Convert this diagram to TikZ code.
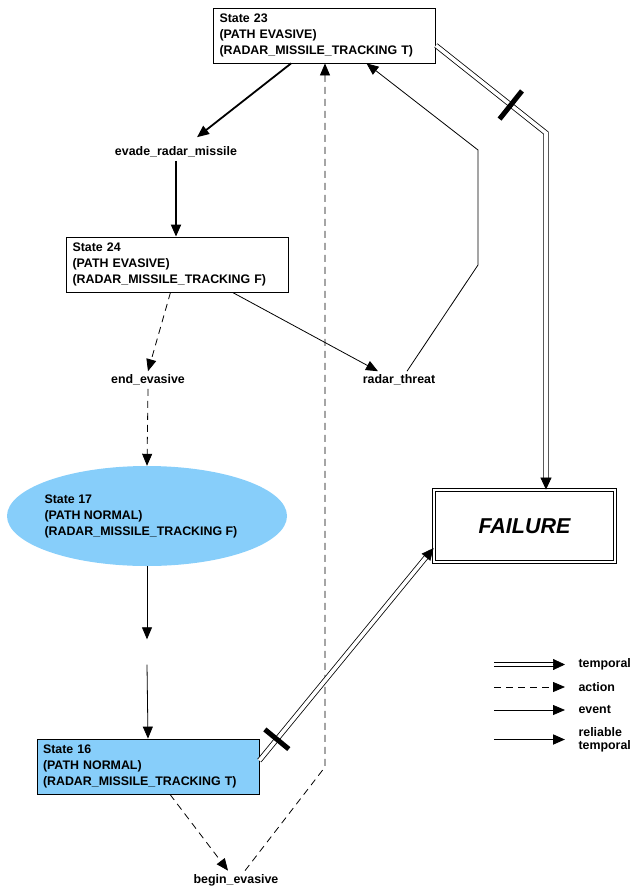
\documentclass[tikz,border=0pt]{standalone}
\usepackage{fontspec}
\setmainfont{Liberation Sans}
\usetikzlibrary{arrows.meta,calc,shapes.geometric}
\definecolor{stblue}{RGB}{135,206,250}
\newcommand{\stlines}[3]{State #1\\(PATH #2)\\(RADAR\_MISSILE\_TRACKING #3)}
\tikzset{
  every node/.style={font=\fontsize{12.4}{16}\selectfont\bfseries},
  tip/.style={-{Triangle[length=12pt,width=10pt]}},
  event/.style={tip, line width=0.8pt},
  action/.style={tip, line width=0.8pt, dash pattern=on 7pt off 5pt},
  rtemp/.style={tip, line width=1.8pt},
  temp/.style={line width=0.8pt, double, double distance=3.6pt, shorten >=8pt},
  ttip/.style={-{Triangle[length=12pt,width=11pt]}, line width=0.7pt},
  statebox/.style={draw, rectangle, align=left, text width=210pt, inner xsep=6pt, minimum height=55pt, line width=0.8pt},
  rbar/.style={fill=black, rectangle, minimum width=5pt, minimum height=36pt, inner sep=0pt, sloped, allow upside down},
}

\begin{document}
\begin{tikzpicture}[x=1pt, y=-1pt]
  \useasboundingbox (0,0) rectangle (633,891);

  %%%%% states %%%%%
  \node[statebox] (s23) at (324.5,35.5) {\stlines{23}{EVASIVE}{T}};
  \node[statebox] (s24) at (177.5,264.5) {\stlines{24}{EVASIVE}{F}};
  \node[ellipse, fill=stblue, minimum width=280pt, minimum height=100pt, inner sep=0pt] (s17) at (147,516)
    {\makebox[0pt]{\parbox{205pt}{\stlines{17}{NORMAL}{F}}}};
  \node[statebox, fill=stblue] (s16) at (148,766.5) {\stlines{16}{NORMAL}{T}};
  \node[draw, double, double distance=2.5pt, line width=0.8pt, minimum width=181pt, minimum height=72pt,
    font=\fontsize{21.5}{24}\selectfont\bfseries\itshape] (failure) at (524.5,526) {FAILURE};

  %%%%% events and actions %%%%%
  \node (evade) at (176,152) {evade\_radar\_missile};
  \node (endev) at (148,380) {end\_evasive};
  \node (radar) at (399,380) {radar\_threat};
  \node (beginev) at (236,880) {begin\_evasive};
  \node[minimum height=25pt] (evnone) at (147,652) {};

  \coordinate (rb1) at (478,265);
  \coordinate (rb2) at (478,150);
  \coordinate (bb) at (325,767);
  \coordinate (fb) at (546,133);
  \coordinate (ftop) at (fb |- failure.north);
  \coordinate (fleft) at ($(failure.west)+(0,22)$);
  \coordinate (s16e) at ($(s16.east)+(0,-6)$);

  %%%%% connectors %%%%%
  \draw[rtemp] ($(s23.south west)!.35!(s23.south east)$) -- ($(evade.north)+(21,-6)$);
  \draw[rtemp] (evade.south) -- (evade.south |- s24.north);
  \draw[action] ($(s24.south)+(-7,0)$) -- (endev.north);
  \draw[event] ($(s24.south)+(55,0)$) -- ($(radar.north)+(-21,0)$);
  \draw[event] ($(radar.north)+(8,0)$) -- (rb1) -- (rb2) -- ($(s23.south)+(42,0)$);
  \draw[action] (endev.south) -- (s17.north);
  \draw[event] (s17.south) -- (evnone.north);
  \draw[event] (evnone.south) -- (s16.north);
  \draw[action] ($(s16.south)+(22,0)$) -- ($(beginev.north)+(-8,0)$);
  \draw[action] ($(beginev.north)+(9,0)$) -- (bb) -- (bb |- s23.south);

  \draw[temp] ($(s23.east)+(0,10)$) -- node[rbar, pos=.68] {} (fb) -- (ftop);
  \draw[ttip] ($(ftop)+(0,-12)$) -- (ftop);
  \draw[temp] (s16e) -- node[rbar, pos=.1, minimum height=31pt] {} (fleft);
  \draw[ttip] ($(fleft)!12pt!(s16e)$) -- (fleft);

  %%%%% legend %%%%%
  \node[anchor=west] (lgtemp) at (575,664.5) {temporal};
  \node[anchor=west] (lgact) at (575,687) {action};
  \node[anchor=west] (lgev) at (575,710) {event};
  \node[anchor=west, align=left, font=\fontsize{12.4}{13}\selectfont\bfseries] (lgrel) at (575,739.5) {reliable\\temporal};

  \draw[temp] ([xshift=-81pt]lgtemp.west) -- ([xshift=-10pt]lgtemp.west);
  \draw[ttip] ([xshift=-22pt]lgtemp.west) -- ([xshift=-10pt]lgtemp.west);
  \draw[action] ([xshift=-81pt]lgact.west) -- ([xshift=-10pt]lgact.west);
  \draw[event] ([xshift=-81pt]lgev.west) -- ([xshift=-10pt]lgev.west);
  \draw[rtemp] ([xshift=-81pt]lgrel.west) -- ([xshift=-10pt]lgrel.west);
\end{tikzpicture}
\end{document}
